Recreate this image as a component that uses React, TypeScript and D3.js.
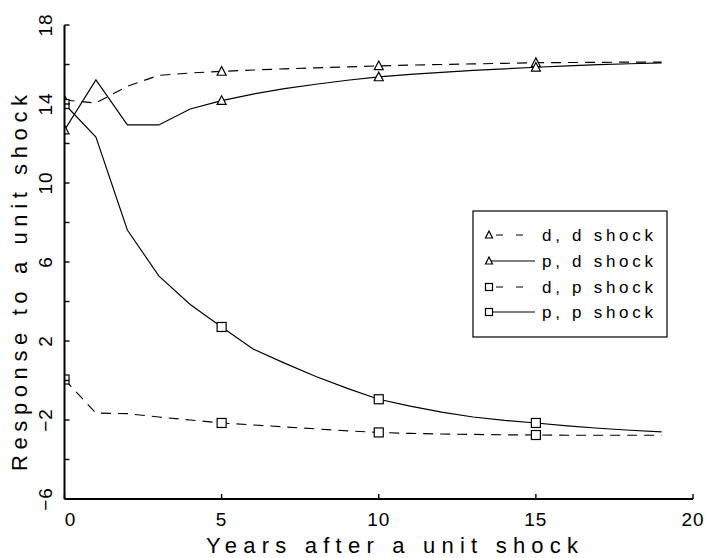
import React from "react";
import * as d3 from "d3";

const years = d3.range(0, 20);
const ddShock = [14.2, 14.05, 14.9, 15.45, 15.57, 15.65, 15.72, 15.78, 15.83, 15.88, 15.93, 15.97, 16.0, 16.03, 16.06, 16.09, 16.1, 16.11, 16.12, 16.12];
const pdShock = [12.68, 15.22, 12.94, 12.94, 13.75, 14.17, 14.5, 14.78, 15.0, 15.2, 15.37, 15.5, 15.6, 15.7, 15.78, 15.86, 15.93, 15.99, 16.04, 16.08];
const dpShock = [0.05, -1.65, -1.68, -1.85, -2.0, -2.15, -2.25, -2.35, -2.45, -2.55, -2.63, -2.68, -2.71, -2.73, -2.75, -2.76, -2.77, -2.77, -2.77, -2.77];
const ppShock = [14.0, 12.33, 7.62, 5.3, 3.85, 2.71, 1.6, 0.88, 0.2, -0.4, -0.95, -1.3, -1.6, -1.85, -2.02, -2.15, -2.3, -2.42, -2.52, -2.6];
const markerYears = [0, 5, 10, 15];
const seriesNames = ["d, d shock", "p, d shock", "d, p shock", "p, p shock"];
const yTickLabels = [18, 14, 10, 6, 2, -2, -6];
const yMinorTicks = d3.range(-6, 19, 2);
const xTickLabels = [0, 5, 10, 15, 20];

const series = [
  { name: seriesNames[0], values: ddShock, dashed: true, marker: "tri" },
  { name: seriesNames[1], values: pdShock, dashed: false, marker: "tri" },
  { name: seriesNames[2], values: dpShock, dashed: true, marker: "sq" },
  { name: seriesNames[3], values: ppShock, dashed: false, marker: "sq" },
];

const FONT = "'Liberation Sans', Arial, sans-serif";

function Marker({ type, x, y, s }: { type: string; x: number; y: number; s: number }) {
  if (type === "tri") {
    const h = s * 0.85;
    return (
      <path
        d={`M${x},${y - h / 2 - 1}L${x + s / 2},${y + h / 2}L${x - s / 2},${y + h / 2}Z`}
        fill="white"
        stroke="black"
        strokeWidth={1.2}
      />
    );
  }
  return <rect x={x - s / 2} y={y - s / 2} width={s} height={s} fill="white" stroke="black" strokeWidth={1.2} />;
}

export default function App() {
  const x = d3.scaleLinear().domain([0, 20]).range([64.5, 693]);
  const y = d3.scaleLinear().domain([-6, 18]).range([499, 25]);
  const line = d3
    .line<number>()
    .x((_, i) => x(years[i]))
    .y((d) => y(d));

  const legendRows = [235, 261, 287, 312];

  return (
    <svg width={708} height={558} style={{ position: "absolute", left: 0, top: 0, background: "white" }}>
      <defs>
        <clipPath id="plotClip">
          <rect x={x(0)} y={0} width={x(20) - x(0) + 10} height={y(-6)} />
        </clipPath>
      </defs>
      <rect width={708} height={558} fill="white" />

      {/* series */}
      {series.map((s) => (
        <path
          key={s.name}
          d={line(s.values) || ""}
          fill="none"
          stroke="black"
          strokeWidth={1.15}
          strokeDasharray={s.dashed ? "10,7" : undefined}
        />
      ))}
      <g clipPath="url(#plotClip)">
        {series.map((s) =>
          markerYears.map((m) => (
            <Marker key={s.name + m} type={s.marker} x={x(m)} y={y(s.values[m])} s={9} />
          ))
        )}
      </g>

      {/* axes */}
      <line x1={x(0)} x2={x(0)} y1={y(18)} y2={y(-6)} stroke="black" strokeWidth={2} />
      <line x1={x(0)} x2={x(20)} y1={y(-6)} y2={y(-6)} stroke="black" strokeWidth={2} />
      {yMinorTicks.map((t) => (
        <line key={"yt" + t} x1={x(0)} x2={x(0) + 5} y1={y(t)} y2={y(t)} stroke="black" strokeWidth={1.4} />
      ))}
      {xTickLabels.map((t) => (
        <line key={"xt" + t} x1={x(t)} x2={x(t)} y1={y(-6)} y2={y(-6) - 5} stroke="black" strokeWidth={1.4} />
      ))}
      {yTickLabels.map((t) => (
        <text
          key={"yl" + t}
          transform={`translate(52,${y(t)}) rotate(-90)`}
          textAnchor="middle"
          fontFamily={FONT}
          fontSize={19}
          letterSpacing={1}
        >
          {t < 0 ? "\u2212" + Math.abs(t) : t}
        </text>
      ))}
      {xTickLabels.map((t, i) => (
        <text
          key={"xl" + t}
          x={x(t) + (i === 0 ? 6 : 0)}
          y={526}
          textAnchor="middle"
          fontFamily={FONT}
          fontSize={19}
          letterSpacing={1}
        >
          {t}
        </text>
      ))}
      <text
        transform="translate(27,283) rotate(-90)"
        textAnchor="middle"
        fontFamily={FONT}
        fontSize={22}
        textLength={376}
        lengthAdjust="spacing"
      >
        Response to a unit shock
      </text>
      <text x={392} y={553} textAnchor="middle" fontFamily={FONT} fontSize={22} textLength={372} lengthAdjust="spacing">
        Years after a unit shock
      </text>

      {/* legend */}
      <rect x={473} y={211} width={194} height={126} fill="white" stroke="black" strokeWidth={1.2} />
      {series.map((s, i) => (
        <g key={"lg" + s.name}>
          <line
            x1={488}
            x2={s.dashed ? 528 : 535}
            y1={legendRows[i]}
            y2={legendRows[i]}
            stroke="black"
            strokeWidth={1.2}
            strokeDasharray={s.dashed ? "0,8,7,5" : undefined}
          />
          <Marker type={s.marker} x={489} y={legendRows[i]} s={7} />
          <text
            x={542}
            y={legendRows[i] + 6}
            fontFamily={FONT}
            fontSize={17}
            textLength={111}
            lengthAdjust="spacing"
          >
            {s.name}
          </text>
        </g>
      ))}
    </svg>
  );
}
